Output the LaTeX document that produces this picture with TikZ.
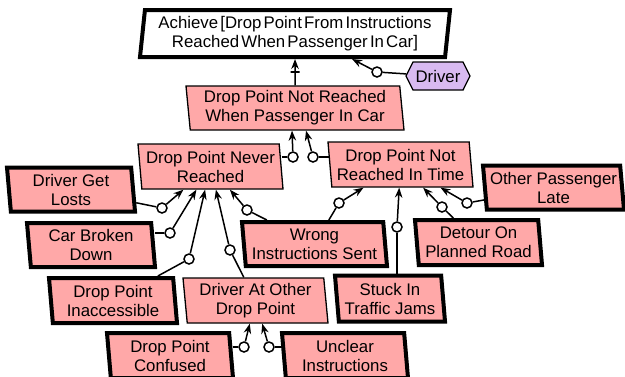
\documentclass[tikz,border=0pt]{standalone}
\usepackage{fontspec}
\setmainfont{Liberation Sans}
\usetikzlibrary{shapes.geometric,shapes.symbols,arrows.meta}
\definecolor{obsfill}{RGB}{255,168,168}
\definecolor{agfill}{RGB}{216,186,240}
\begin{document}
\begin{tikzpicture}[x=1pt,y=-1pt,
  txt/.style={font=\fontsize{16.8pt}{19pt}\selectfont, align=center, text=black},
  obst/.style={txt, trapezium, trapezium left angle=97, trapezium right angle=83,
    trapezium stretches body, fill=obsfill, draw=black, inner sep=0pt, minimum height=45pt},
  leaf/.style={obst, line width=4pt},
  midobs/.style={obst, line width=1.3pt},
  goal/.style={txt, font=\fontsize{16.8pt}{19.5pt}\selectfont,
    trapezium, trapezium left angle=82, trapezium right angle=98,
    trapezium stretches body, fill=white, draw=black, line width=4pt, inner sep=0pt, minimum height=47pt},
  agent/.style={txt, signal, signal to=east and west, signal pointer angle=127,
    fill=agfill, draw=black, line width=1.3pt, minimum width=64pt, minimum height=28pt, inner sep=0pt},
  refc/.style={circle, draw=black, fill=white, line width=1.5pt, minimum size=10pt, inner sep=0pt},
  link/.style={draw=black, line width=1.5pt},
  arr/.style={link, -{Stealth[length=10pt,width=7.5pt]}},
  crossbar/.style={rectangle, draw=black, line width=1.4pt, minimum width=9pt, minimum height=0pt, inner sep=0pt}
]
\useasboundingbox (0,0) rectangle (625,376);

% nodes
\node[goal, minimum width=310pt] (G) at (295,33.5) {Achieve\hspace{2.2pt}[Drop\hspace{2.2pt}Point\hspace{2.2pt}From\hspace{2.2pt}Instructions\\Reached\hspace{2.2pt}When\hspace{2.2pt}Passenger\hspace{2.2pt}In\hspace{2.2pt}Car]};
\node[agent] (D) at (438,76) {Driver};
\node[midobs, minimum width=218pt, minimum height=44pt] (P) at (295,108) {Drop Point Not Reached\\When Passenger In Car};
\node[midobs, minimum width=145pt] (NR) at (210.5,166.5) {Drop Point Never\\Reached};
\node[midobs, minimum width=145pt] (NT) at (400.5,164.5) {Drop Point Not\\Reached In Time};
\node[leaf, minimum width=128pt, minimum height=44pt] (DGL) at (71,189.5) {Driver Get\\Losts};
\node[leaf, minimum width=128pt, minimum height=44pt] (CBD) at (91,245) {Car Broken\\Down};
\node[leaf, minimum width=128pt] (DPI) at (113,300.5) {Drop Point\\Inaccessible};
\node[midobs, minimum width=145pt] (DAO) at (255.5,300.5) {Driver At Other\\Drop Point};
\node[leaf, minimum width=110pt, minimum height=46pt] (STJ) at (390,298.5) {Stuck In\\Traffic Jams};
\node[leaf, minimum width=145pt, minimum height=44pt] (WIS) at (314.5,244) {Wrong\\Instructions Sent};
\node[leaf, minimum width=127pt] (DOPR) at (478.5,242.5) {Detour On\\Planned Road};
\node[leaf, minimum width=141pt, minimum height=44pt] (OPL) at (553.5,187.5) {Other Passenger\\Late};
\node[leaf, minimum width=126pt] (DPC) at (170,355.5) {Drop Point\\Confused};
\node[leaf, minimum width=126pt] (UI) at (345,355.5) {Unclear\\Instructions};

% refinement circles
\node[refc] (c0) at (377,72) {};
\node[refc] (ca) at (293,157) {};
\node[refc] (cb) at (313,157) {};
\node[refc] (c1) at (162,208) {};
\node[refc] (c2) at (170,233) {};
\node[refc] (c3) at (189,259) {};
\node[refc] (c4) at (230,250) {};
\node[refc] (c5) at (247,210) {};
\node[refc] (c6) at (339,203) {};
\node[refc] (c7) at (397,227) {};
\node[refc] (c8) at (442,207) {};
\node[refc] (c9) at (467,203) {};
\node[refc] (c10) at (244,347) {};
\node[refc] (c11) at (269,347) {};

% top
\draw[arr] (P) -- node[crossbar, pos=0.5] {} (G);
\draw[link] (D) -- (c0);
\draw[arr] (c0) -- ([xshift=57pt]G.south);

% to P
\draw[link] (ca -| NR.east) -- (ca);
\draw[arr] (ca) -- ([xshift=-3pt]P.south);
\draw[link] (cb -| NT.west) -- (cb);
\draw[arr] (cb) -- ([xshift=11pt]P.south);

% to NR
\draw[link] (DGL) -- (c1);  \draw[arr] (c1) -- (NR);
\draw[link] (c2 -| CBD.east) -- (c2);  \draw[arr] (c2) -- (NR);
\draw[link] (DPI) -- (c3);  \draw[arr] (c3) -- (NR);
\draw[link] (DAO) -- (c4);  \draw[arr] (c4) -- (NR);
\draw[link] (WIS) -- (c5);  \draw[arr] (c5) -- (NR);

% to NT
\draw[link] (WIS) -- (c6);  \draw[arr] (c6) -- (NT);
\draw[link] (STJ.north -| c7) -- (c7);  \draw[arr] (c7) -- (NT);
\draw[link] (DOPR) -- (c8);  \draw[arr] (c8) -- (NT);
\draw[link] (OPL) -- (c9);  \draw[arr] (c9) -- (NT);

% to DAO
\draw[link] (c10 -| DPC.east) -- (c10);  \draw[arr] (c10) -- (DAO);
\draw[link] (c11 -| UI.west) -- (c11);  \draw[arr] (c11) -- (DAO);
\end{tikzpicture}
\end{document}
